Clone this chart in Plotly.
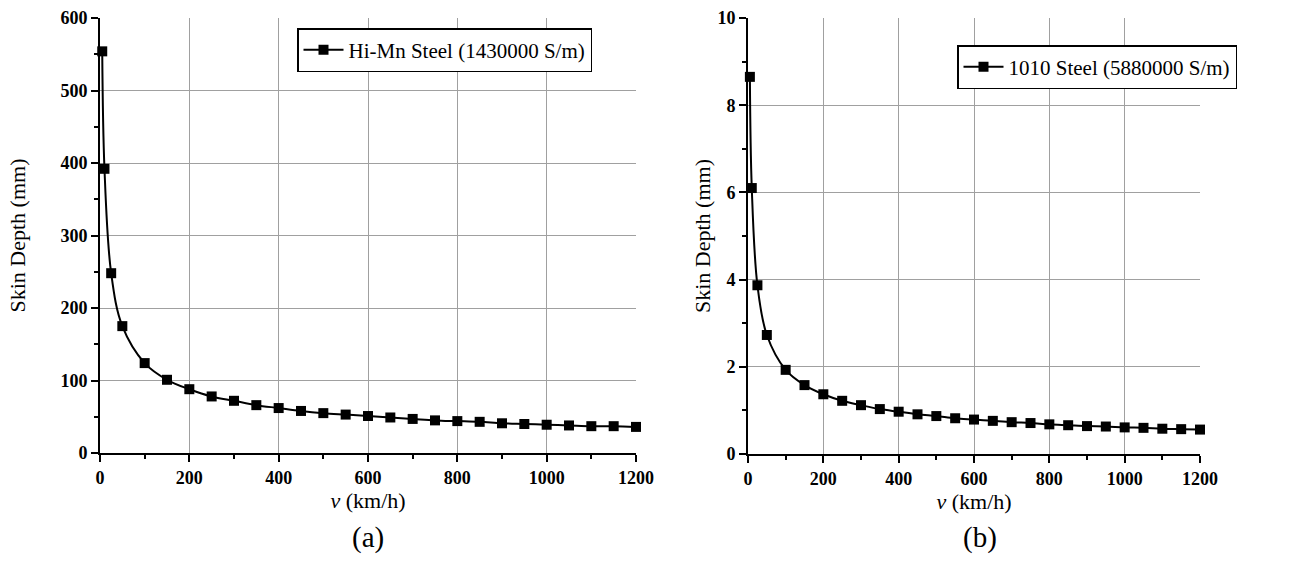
import plotly.graph_objects as go

# Train speed (km/h) at which skin depth was evaluated
speed = [5, 10, 25, 50, 100, 150, 200, 250, 300, 350, 400, 450, 500, 550, 600,
         650, 700, 750, 800, 850, 900, 950, 1000, 1050, 1100, 1150, 1200]

# Skin depth (mm) for Hi-Mn steel, sigma = 1430000 S/m
depth_himn = [554, 392, 248, 175, 124, 101, 88, 78, 72, 66, 62, 58, 55, 53, 51,
              49, 47, 45, 44, 43, 41, 40, 39, 38, 37, 37, 36]

# Skin depth (mm) for 1010 steel, sigma = 5880000 S/m
depth_1010 = [8.65, 6.1, 3.87, 2.73, 1.93, 1.58, 1.37, 1.22, 1.12, 1.03, 0.97,
              0.91, 0.87, 0.82, 0.79, 0.76, 0.73, 0.71, 0.68, 0.66, 0.64, 0.63,
              0.61, 0.60, 0.58, 0.57, 0.56]

name_himn = "Hi-Mn Steel (1430000 S/m)"
name_1010 = "1010 Steel (5880000 S/m)"
panel_labels = ["(a)", "(b)"]

W, H = 1312, 565
SERIF = "Liberation Serif, Times New Roman, serif"

fig = go.Figure()

line_style = dict(color="black", width=2, shape="spline", smoothing=1)
marker_style = dict(symbol="square", size=10, color="black")

fig.add_trace(go.Scatter(x=speed, y=depth_himn, mode="lines+markers", name=name_himn,
                         line=line_style, marker=marker_style, cliponaxis=False,
                         xaxis="x", yaxis="y", legend="legend"))
fig.add_trace(go.Scatter(x=speed, y=depth_1010, mode="lines+markers", name=name_1010,
                         line=line_style, marker=marker_style, cliponaxis=False,
                         xaxis="x2", yaxis="y2", legend="legend2"))

tick_font = dict(family=SERIF, size=18, color="black", weight="bold")
title_font = dict(family=SERIF, size=22, color="black")


def xaxis(domain, anchor):
    return dict(domain=domain, anchor=anchor, range=[0, 1200], dtick=200,
                automargin=False,
                tickfont=tick_font, ticks="outside", ticklen=7, tickwidth=1.5,
                tickcolor="black", showline=True, linecolor="black", linewidth=2,
                showgrid=True, gridcolor="#a0a0a0", gridwidth=1, zeroline=False,
                minor=dict(dtick=100, ticks="outside", ticklen=4, tickcolor="black",
                           showgrid=False),
                title=dict(text="<i>v</i> (km/h)", font=title_font, standoff=5))


def yaxis(domain, anchor, rng, dtick, minor, standoff):
    return dict(domain=domain, anchor=anchor, range=rng, dtick=dtick,
                automargin=False,
                tickfont=tick_font, ticks="outside", ticklen=7, tickwidth=1.5,
                tickcolor="black", showline=True, linecolor="black", linewidth=2,
                showgrid=True, gridcolor="#a0a0a0", gridwidth=1, zeroline=False,
                minor=dict(dtick=minor, ticks="outside", ticklen=4, tickcolor="black",
                           showgrid=False),
                title=dict(text="Skin Depth (mm)", font=title_font, standoff=standoff))


legend_font = dict(family=SERIF, size=21, color="black")

fig.update_layout(
    width=W, height=H,
    margin=dict(l=0, r=0, t=0, b=0),
    paper_bgcolor="white", plot_bgcolor="white",
    xaxis=xaxis([100 / W, 636 / W], "y"),
    yaxis=yaxis([(H - 453) / H, (H - 18) / H], "x", [0, 600], 100, 50, 29),
    xaxis2=xaxis([748 / W, 1200 / W], "y2"),
    yaxis2=yaxis([(H - 454) / H, (H - 18) / H], "x2", [0, 10], 2, 1, 1),
    legend=dict(x=297 / W, y=(H - 28) / H, xanchor="left", yanchor="top",
                bgcolor="white", bordercolor="black", borderwidth=1.5,
                font=legend_font, itemwidth=40, tracegroupgap=0),
    legend2=dict(x=957 / W, y=(H - 45) / H, xanchor="left", yanchor="top",
                 bgcolor="white", bordercolor="black", borderwidth=1.5,
                 font=legend_font, itemwidth=40, tracegroupgap=0),
    showlegend=True,
)

for label, cx in zip(panel_labels, [368, 980]):
    fig.add_annotation(text=label, x=cx / W, y=(H - 537) / H, xref="paper", yref="paper",
                       xanchor="center", yanchor="middle", showarrow=False,
                       font=dict(family=SERIF, size=29, color="black"))

fig.write_html("out.html")
